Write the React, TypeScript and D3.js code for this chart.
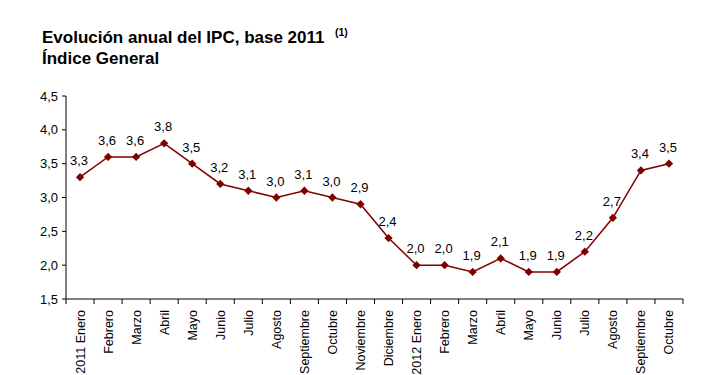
import React from "react";
import * as d3 from "d3";

const categories = [
  "2011 Enero", "Febrero", "Marzo", "Abril", "Mayo", "Junio", "Julio", "Agosto",
  "Septiembre", "Octubre", "Noviembre", "Diciembre", "2012 Enero", "Febrero", "Marzo",
  "Abril", "Mayo", "Junio", "Julio", "Agosto", "Septiembre", "Octubre",
];
const values = [3.3, 3.6, 3.6, 3.8, 3.5, 3.2, 3.1, 3.0, 3.1, 3.0, 2.9, 2.4, 2.0, 2.0, 1.9, 2.1, 1.9, 1.9, 2.2, 2.7, 3.4, 3.5];
const yTicks = [1.5, 2.0, 2.5, 3.0, 3.5, 4.0, 4.5];

const W = 712, H = 375;
const left = 66, right = 683, top = 96, bottom = 299;
const font = "'Liberation Sans', Arial, sans-serif";
const color = "#800000";

export default function App() {
  const keys = categories.map((_, i) => String(i));
  const x = d3.scaleBand<string>().domain(keys).range([left, right]);
  const y = d3.scaleLinear().domain([1.5, 4.5]).range([bottom, top]);
  const fmt = (v: number) => v.toFixed(1).replace(".", ",");
  const line = d3.line<number>()
    .x((_, i) => (x(String(i)) as number) + x.bandwidth() / 2)
    .y((v) => y(v));
  const diamond = d3.symbol().type(d3.symbolDiamond2).size(44)() as string;
  const boundaries = d3.range(categories.length + 1).map((i) => left + i * x.bandwidth());

  return (
    <svg width={W} height={H} style={{ position: "absolute", left: 0, top: 0, background: "#fff" }} fontFamily={font}>
      <rect width={W} height={H} fill="#fff" />
      <text x={42} y={43} fontSize={17} fontWeight="bold" fill="#000">
        Evolución anual del IPC, base 2011
      </text>
      <text x={335} y={36} fontSize={10.5} fontWeight="bold" fill="#000">(1)</text>
      <text x={42} y={64} fontSize={17} fontWeight="bold" fill="#000">Índice General</text>

      {/* y axis */}
      <line x1={left} x2={left} y1={top} y2={bottom} stroke="#000" strokeWidth={1} />
      {yTicks.map((t) => (
        <g key={t}>
          <line x1={left - 4} x2={left} y1={y(t)} y2={y(t)} stroke="#000" />
          <text x={left - 8} y={y(t)} dy="0.35em" textAnchor="end" fontSize={13} fill="#000">
            {fmt(t)}
          </text>
        </g>
      ))}

      {/* x axis */}
      <line x1={left} x2={right} y1={bottom} y2={bottom} stroke="#000" />
      {boundaries.map((bx, i) => (
        <line key={i} x1={bx} x2={bx} y1={bottom} y2={bottom + 5} stroke="#000" />
      ))}
      {categories.map((c, i) => {
        const cx = (x(String(i)) as number) + x.bandwidth() / 2;
        return (
          <text key={i} transform={`translate(${cx + 4.5},${bottom + 11}) rotate(-90)`} textAnchor="end" fontSize={12.5} fill="#000">
            {c}
          </text>
        );
      })}

      <path d={line(values) as string} fill="none" stroke={color} strokeWidth={1.5} />
      {values.map((v, i) => {
        const cx = (x(String(i)) as number) + x.bandwidth() / 2;
        return (
          <g key={i}>
            <path d={diamond} transform={`translate(${cx},${y(v)})`} fill={color} />
            <text x={cx - 1} y={y(v) - 12} textAnchor="middle" fontSize={13} fill="#000">
              {fmt(v)}
            </text>
          </g>
        );
      })}
    </svg>
  );
}
